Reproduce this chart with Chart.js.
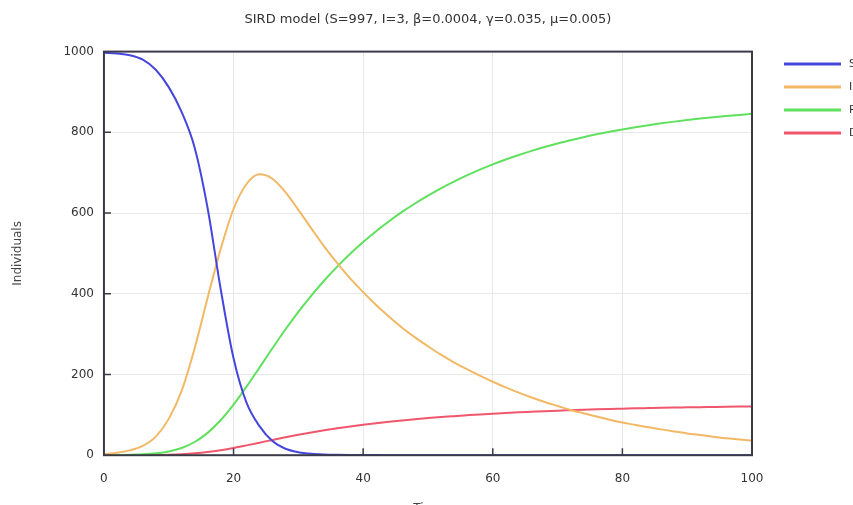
<!DOCTYPE html>
<html>
<head>
<meta charset="utf-8">
<script src="https://cdn.jsdelivr.net/npm/chart.js@4/dist/chart.umd.min.js"></script>
<style>
  html, body { margin: 0; padding: 0; background: #fff; }
  #wrap { width: 853px; height: 505px; overflow: hidden; }
  #cv { display: block; }
</style>
</head>
<body>
<div id="wrap"><canvas id="cv" width="853" height="520"></canvas></div>
<script>
// Time axis (days), every 2
const TEMPO = [0, 2, 4, 6, 8, 10, 12, 14, 16, 18, 20, 22, 24, 26, 28, 30, 32, 34, 36, 38, 40,
  42, 44, 46, 48, 50, 52, 54, 56, 58, 60, 62, 64, 66, 68, 70, 72, 74, 76, 78, 80,
  82, 84, 86, 88, 90, 92, 94, 96, 98, 100];

// Values
const SUSC = [997, 995, 991, 980, 955, 912, 850, 762, 612, 413, 240, 130, 72, 35, 16, 7.5, 3.5, 1.7, 0.9, 0.5, 0.3,
  0.2, 0.1, 0.1, 0.1, 0, 0, 0, 0, 0, 0, 0, 0, 0, 0, 0, 0, 0, 0, 0, 0,
  0, 0, 0, 0, 0, 0, 0, 0, 0, 0];
const INFEC = [3, 6, 12, 23, 46, 90, 160, 265, 390, 510, 610, 672, 696, 685, 652, 608, 562, 517, 476, 438, 404,
  372, 343, 316, 292, 270, 249, 230, 213, 197, 182, 168, 155, 143, 132, 122, 112, 104, 96, 88, 81,
  75, 69, 64, 59, 54, 50, 46, 42, 39, 36];
const RECUP = [0, 0.3, 0.9, 2.2, 4.6, 9.2, 17.9, 32.7, 55.3, 86.5, 125.3, 169.8, 217.1, 265, 311.4, 355, 395.5, 432.9, 467.3, 499, 528.2,
  555.1, 579.8, 602.7, 623.7, 643.2, 661.2, 677.8, 693.1, 707.4, 720.5, 732.6, 743.8, 754.1, 763.7, 772.5, 780.5, 788, 795, 801.3, 807.2,
  812.6, 817.6, 822.2, 826.5, 830.4, 834, 837.3, 840.4, 843.2, 845.8];
const MORTOS = [0, 0.04, 0.13, 0.31, 0.65, 1.3, 2.6, 4.7, 7.9, 12.4, 17.9, 24.3, 31, 37.9, 44.5, 50.7, 56.5, 61.8, 66.8, 71.3, 75.5,
  79.3, 82.8, 86.1, 89.1, 91.9, 94.5, 96.8, 99, 101.1, 102.9, 104.7, 106.3, 107.7, 109.1, 110.4, 111.5, 112.6, 113.6, 114.5, 115.3,
  116.1, 116.8, 117.5, 118.1, 118.6, 119.1, 119.6, 120.1, 120.5, 120.8];

const ROTULOS = ["Susceptible", "Infected", "Recovered", "Dead"];
const CORES = ["#4646dc", "#f3b865", "#5fe05f", "#f0566c"];

Chart.defaults.font.family = "DejaVu Sans";
Chart.defaults.font.size = 12;
Chart.defaults.color = "#333";

const pontos = (ys) => TEMPO.map((t, i) => ({ x: t, y: ys[i] }));

// Frame around the plot plus small inward ticks (gnuplot look)
const moldura = {
  id: "moldura",
  afterDatasetsDraw(chart) {
    const { ctx, chartArea: a, scales } = chart;
    ctx.save();
    ctx.strokeStyle = "#3a3a48";
    ctx.lineWidth = 2;
    ctx.strokeRect(a.left, a.top, a.right - a.left, a.bottom - a.top);
    ctx.lineWidth = 1.5;
    ctx.beginPath();
    [20, 40, 60, 80].forEach((v) => {
      const x = scales.x.getPixelForValue(v);
      ctx.moveTo(x, a.bottom);
      ctx.lineTo(x, a.bottom - 7);
    });
    [200, 400, 600, 800].forEach((v) => {
      const y = scales.y.getPixelForValue(v);
      ctx.moveTo(a.left, y);
      ctx.lineTo(a.left + 7, y);
    });
    ctx.stroke();
    ctx.restore();
  },
};

const series = [SUSC, INFEC, RECUP, MORTOS];
const gerarRotulos = Chart.defaults.plugins.legend.labels.generateLabels;

new Chart(document.getElementById("cv"), {
  type: "line",
  data: {
    datasets: series.map((s, i) => ({
      label: ROTULOS[i],
      data: pontos(s),
      borderColor: CORES[i],
      backgroundColor: CORES[i],
      borderWidth: 2,
      pointRadius: 0,
      cubicInterpolationMode: "monotone",
    })),
  },
  options: {
    responsive: false,
    animation: false,
    layout: { padding: 0 },
    plugins: {
      title: {
        display: true,
        text: "SIRD model (S=997, I=3, β=0.0004, γ=0.035, μ=0.005)",
        fullSize: false,
        color: "#333",
        font: { size: 13, weight: "normal" },
        padding: { top: 12, bottom: 24 },
      },
      legend: {
        position: "right",
        align: "start",
        maxWidth: 80,
        title: { display: true, text: "", font: { size: 12 }, padding: { top: 16, bottom: 16 } },
        labels: {
          boxWidth: 55,
          boxHeight: 1,
          padding: 12,
          color: "#333",
          font: { size: 11 },
          generateLabels: (chart) => gerarRotulos(chart).map((l) => ({ ...l, text: " " + l.text })),
        },
      },
      tooltip: { enabled: false },
    },
    scales: {
      x: {
        type: "linear",
        min: 0,
        max: 100,
        ticks: { stepSize: 20, padding: 16 },
        grid: { color: "#e8e8e8", drawTicks: false },
        border: { display: false },
        title: { display: true, text: "Time", color: "#444", padding: { top: 0, bottom: 4 } },
      },
      y: {
        min: 0,
        max: 1000,
        ticks: { stepSize: 200, padding: 10, callback: (v) => String(v) },
        grid: { color: "#e8e8e8", drawTicks: false },
        border: { display: false },
        title: {
          display: true,
          text: "Individuals",
          color: "#444",
          padding: { top: 11, bottom: 28 },
        },
      },
      folga: {
        position: "right",
        display: true,
        ticks: { display: false },
        grid: { display: false, drawTicks: false },
        border: { display: false },
        afterFit: (s) => { s.width = 21; },
      },
    },
  },
  plugins: [moldura],
});
</script>
</body>
</html>
